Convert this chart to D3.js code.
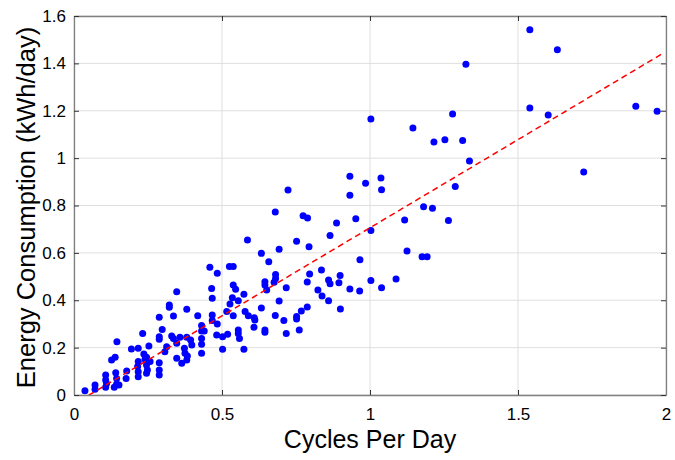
<!DOCTYPE html>
<html>
<head>
<meta charset="utf-8">
<script src="https://cdn.jsdelivr.net/npm/d3@7"></script>
<style>
  html, body { margin: 0; padding: 0; background: #ffffff; }
  svg { display: block; font-family: "Liberation Sans", Arial, Helvetica, sans-serif; }
</style>
</head>
<body>
<svg id="chart" width="675" height="460"></svg>
<script>
// Cycles per day for each measured appliance
const cyclesPerDay = [
  0.037, 0.071, 0.071, 0.107, 0.107, 0.107, 0.110, 0.141, 0.144, 0.144,
  0.136, 0.152, 0.127, 0.139, 0.145, 0.178, 0.176, 0.194, 0.217, 0.232,
  0.236, 0.245, 0.240, 0.217, 0.215, 0.217, 0.217, 0.253, 0.257, 0.245,
  0.248, 0.245, 0.288, 0.298, 0.288, 0.288, 0.288, 0.288, 0.288, 0.322,
  0.322, 0.336, 0.307, 0.313, 0.330, 0.336, 0.347, 0.347, 0.347, 0.358,
  0.381, 0.394, 0.398, 0.373, 0.375, 0.383, 0.381, 0.364, 0.381, 0.418,
  0.459, 0.525, 0.538, 0.484, 0.538, 0.546, 0.465, 0.574, 0.467, 0.535,
  0.555, 0.527, 0.516, 0.538, 0.578, 0.589, 0.609, 0.611, 0.467, 0.467,
  0.484, 0.431, 0.440, 0.431, 0.431, 0.431, 0.431, 0.608, 0.482, 0.502,
  0.519, 0.555, 0.555, 0.559, 0.502, 0.574, 0.586, 0.633, 0.658, 0.693,
  0.681, 0.681, 0.645, 0.645, 0.651, 0.676, 0.717, 0.693, 0.633, 0.680,
  0.709, 0.645, 0.645, 0.717, 0.723, 0.680, 0.932, 1.037, 0.985, 0.932,
  1.039, 0.774, 0.789, 0.887, 0.952, 1.003, 1.117, 1.181, 1.211, 0.865,
  0.752, 0.794, 1.125, 1.176, 1.193, 0.966, 0.836, 0.796, 0.788, 0.860,
  0.865, 0.899, 0.895, 1.003, 1.088, 1.039, 0.932, 0.965, 0.824, 0.838,
  0.860, 0.788, 0.900, 0.768, 0.752, 0.752, 0.761, 1.540, 1.633, 1.324,
  1.540, 1.898, 1.970, 1.602, 1.279, 1.253, 1.313, 1.336, 1.722, 1.288,
  1.265, 1.145, 1.216, 1.003
];

// Daily energy consumption (kWh/day), same order as cyclesPerDay
const energyKWh = [
  0.018, 0.042, 0.024, 0.084, 0.063, 0.033, 0.049, 0.094, 0.070, 0.046,
  0.033, 0.042, 0.148, 0.159, 0.225, 0.101, 0.070, 0.194, 0.197, 0.260,
  0.173, 0.159, 0.151, 0.141, 0.120, 0.098, 0.077, 0.207, 0.141, 0.127,
  0.106, 0.092, 0.328, 0.277, 0.246, 0.235, 0.136, 0.106, 0.084, 0.380,
  0.370, 0.333, 0.183, 0.204, 0.249, 0.239, 0.218, 0.155, 0.436, 0.244,
  0.244, 0.232, 0.211, 0.197, 0.176, 0.165, 0.148, 0.134, 0.362, 0.335,
  0.539, 0.542, 0.542, 0.514, 0.464, 0.446, 0.450, 0.425, 0.408, 0.411,
  0.398, 0.384, 0.352, 0.335, 0.352, 0.335, 0.326, 0.317, 0.338, 0.314,
  0.300, 0.293, 0.270, 0.270, 0.239, 0.214, 0.176, 0.286, 0.253, 0.246,
  0.256, 0.274, 0.260, 0.239, 0.193, 0.193, 0.654, 0.598, 0.563, 0.615,
  0.509, 0.492, 0.478, 0.464, 0.443, 0.476, 0.453, 0.397, 0.367, 0.336,
  0.314, 0.274, 0.265, 0.260, 0.865, 0.773, 0.923, 0.916, 0.894, 0.843,
  0.867, 0.757, 0.747, 0.726, 0.744, 0.694, 0.739, 0.795, 0.788, 0.673,
  0.649, 0.626, 0.608, 0.584, 0.584, 0.571, 0.528, 0.511, 0.477, 0.485,
  0.470, 0.504, 0.474, 0.483, 0.490, 0.453, 0.447, 0.439, 0.443, 0.418,
  0.398, 0.372, 0.363, 0.355, 0.331, 0.321, 0.274, 1.542, 1.458, 1.396,
  1.212, 1.219, 1.198, 1.182, 1.186, 1.078, 1.074, 0.988, 0.941, 0.880,
  0.737, 1.127, 1.068, 1.165
];

// Axis ticks
const xTicks = [0, 0.5, 1, 1.5, 2];
const xTickLabels = ["0", "0.5", "1", "1.5", "2"];
const yTicks = [0, 0.2, 0.4, 0.6, 0.8, 1, 1.2, 1.4, 1.6];
const yTickLabels = ["0", "0.2", "0.4", "0.6", "0.8", "1", "1.2", "1.4", "1.6"];

// Least-squares fit line: energy = slope * cycles + intercept
const fitSlope = 0.744;
const fitIntercept = -0.038;
const fitRange = [0.05, 1.99];

const svg = d3.select("#chart");
const margin = { left: 74, right: 9, top: 16, bottom: 65 };
const W = 675, H = 460;
const plotW = W - margin.left - margin.right;
const plotH = H - margin.top - margin.bottom;

const x = d3.scaleLinear().domain([0, 2]).range([margin.left, margin.left + plotW]);
const y = d3.scaleLinear().domain([0, 1.6]).range([margin.top + plotH, margin.top]);

const gridColor = "#dfdfdf";
const axisColor = "#808080";

// Grid lines
const grid = svg.append("g");
grid.selectAll("line.gx").data(xTicks).join("line")
  .attr("x1", d => x(d)).attr("x2", d => x(d))
  .attr("y1", y(0)).attr("y2", y(1.6))
  .attr("stroke", gridColor).attr("stroke-width", 1);
grid.selectAll("line.gy").data(yTicks).join("line")
  .attr("x1", x(0)).attr("x2", x(2))
  .attr("y1", d => y(d)).attr("y2", d => y(d))
  .attr("stroke", gridColor).attr("stroke-width", 1);

// Clip to the axes box
svg.append("clipPath").attr("id", "plotClip")
  .append("rect").attr("x", x(0)).attr("y", y(1.6))
  .attr("width", plotW).attr("height", plotH);

const points = cyclesPerDay.map((c, i) => ({ c, e: energyKWh[i] }));

// Scatter points
svg.append("g").attr("clip-path", "url(#plotClip)")
  .selectAll("circle").data(points).join("circle")
  .attr("cx", d => x(d.c)).attr("cy", d => y(d.e))
  .attr("r", 3.5).attr("fill", "#0000ff");

// Fit line
const line = d3.line().x(d => x(d)).y(d => y(fitSlope * d + fitIntercept));
svg.append("path").attr("clip-path", "url(#plotClip)")
  .datum(fitRange)
  .attr("d", line)
  .attr("fill", "none").attr("stroke", "#ff0000")
  .attr("stroke-width", 1.5).attr("stroke-dasharray", "6,4");

// Axes (ticks inward on all four sides)
const fmtX = (d, i) => xTickLabels[i];
const fmtY = (d, i) => yTickLabels[i];

const axB = svg.append("g").attr("transform", `translate(0,${y(0)})`)
  .call(d3.axisBottom(x).tickValues(xTicks).tickFormat(fmtX).tickSizeInner(-5).tickSizeOuter(0).tickPadding(13));
const axT = svg.append("g").attr("transform", `translate(0,${y(1.6)})`)
  .call(d3.axisTop(x).tickValues(xTicks).tickFormat("").tickSizeInner(-5).tickSizeOuter(0));
const axL = svg.append("g").attr("transform", `translate(${x(0)},0)`)
  .call(d3.axisLeft(y).tickValues(yTicks).tickFormat(fmtY).tickSizeInner(-5).tickSizeOuter(0).tickPadding(8));
const axR = svg.append("g").attr("transform", `translate(${x(2)},0)`)
  .call(d3.axisRight(y).tickValues(yTicks).tickFormat("").tickSizeInner(-5).tickSizeOuter(0));

[axB, axT, axL, axR].forEach(g => {
  g.select(".domain").attr("stroke", axisColor).attr("stroke-width", 1.3);
  g.selectAll(".tick line").attr("stroke", "#333333").attr("stroke-width", 1);
  g.selectAll(".tick text").attr("fill", "#000000")
    .style("font-size", "17px").style("font-family", "Liberation Sans, Arial, sans-serif");
});

// Axis titles
svg.append("text")
  .attr("x", (x(0) + x(2)) / 2).attr("y", 448)
  .attr("text-anchor", "middle")
  .style("font-size", "25px").attr("fill", "#000000")
  .text("Cycles Per Day");

svg.append("text")
  .attr("transform", `translate(35,${(y(0) + y(1.6)) / 2 + 2}) rotate(-90)`)
  .attr("text-anchor", "middle")
  .style("font-size", "25.5px").attr("fill", "#000000")
  .text("Energy Consumption (kWh/day)");
</script>
</body>
</html>
